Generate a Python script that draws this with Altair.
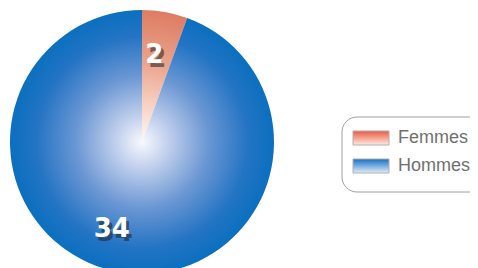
import altair as alt
import pandas as pd
import math

categories = ["Femmes", "Hommes"]
values = [2, 34]
order = [0, 1]

df = pd.DataFrame({"cat": categories, "value": values, "idx": order})

# centre of the pie, radius (chart coordinates)
CX, CY, R = 134, 134, 132
LABEL_DX = {"Femmes": -3, "Hommes": -15}

# Femmes slice bbox -> radial gradient centre in the pattern's unit square
total = sum(values)
ang = 2 * math.pi * values[0] / total
w = R * math.sin(ang)
side = max(w, R)
fx = (side / 2 - w / 2) / side

grad_f = {
    "gradient": "radial",
    "x1": fx, "y1": 1, "r1": 0,
    "x2": fx, "y2": 1, "r2": 1,
    "stops": [
        {"offset": 0, "color": "#fff8f4"},
        {"offset": 0.3, "color": "#f6d0c2"},
        {"offset": 0.6, "color": "#eba48e"},
        {"offset": 1, "color": "#de7c62"},
    ],
}
grad_h = {
    "gradient": "radial",
    "x1": 0.5, "y1": 0.5, "r1": 0,
    "x2": 0.5, "y2": 0.5, "r2": 0.5,
    "stops": [
        {"offset": 0, "color": "#f8f9fe"},
        {"offset": 0.17, "color": "#c9d5ef"},
        {"offset": 0.5, "color": "#6b97d3"},
        {"offset": 0.8, "color": "#2474c4"},
        {"offset": 1, "color": "#0b6fbf"},
    ],
}
leg_f = {
    "gradient": "linear", "x1": 0, "y1": 0, "x2": 0, "y2": 1,
    "stops": [{"offset": 0, "color": "#ee5a42"}, {"offset": 1, "color": "#fdeae2"}],
}
leg_h = {
    "gradient": "linear", "x1": 0, "y1": 0, "x2": 0, "y2": 1,
    "stops": [{"offset": 0, "color": "#1470c6"}, {"offset": 1, "color": "#e4ecf8"}],
}

base = alt.Chart(df)
theta = alt.Theta("value:Q", stack=True)
ordr = alt.Order("idx:Q")

pie = base.mark_arc(radius=R, strokeWidth=0).encode(
    theta=theta,
    order=ordr,
    x=alt.value(CX),
    y=alt.value(CY),
    fill=alt.condition(alt.datum.cat == "Femmes", alt.value(grad_f), alt.value(grad_h)),
)

label_layers = []
for cat in categories:
    dx = LABEL_DX[cat]
    sh = base.mark_text(
        radius=88, font="DejaVu Sans", fontWeight="bold", fontSize=26,
        color="#222222", opacity=0.55, dx=dx + 3, dy=4,
    ).encode(theta=theta, order=ordr, x=alt.value(CX), y=alt.value(CY), text="value:Q",
             opacity=alt.condition(alt.datum.cat == cat, alt.value(0.55), alt.value(0)))
    lb = base.mark_text(
        radius=88, font="DejaVu Sans", fontWeight="bold", fontSize=26, color="white", dx=dx,
    ).encode(theta=theta, order=ordr, x=alt.value(CX), y=alt.value(CY), text="value:Q",
             opacity=alt.condition(alt.datum.cat == cat, alt.value(1), alt.value(0)))
    label_layers += [sh, lb]

ly = alt.Y(
    "cat:N",
    scale=alt.Scale(type="point", domain=categories, range=[130, 158], padding=0),
    axis=None,
)

box = alt.Chart(pd.DataFrame({"a": [0]})).mark_rect(
    cornerRadius=15, fill=None, stroke="#a0a0a0", strokeWidth=1
).encode(x=alt.value(334), x2=alt.value(520), y=alt.value(109), y2=alt.value(184))

sym = base.mark_point(
    shape="M-1,-0.389H1V0.389H-1Z", size=1296, filled=True,
    stroke="#b0b0b0", strokeWidth=1, opacity=1,
).encode(
    x=alt.value(363),
    y=ly,
    fill=alt.condition(alt.datum.cat == "Femmes", alt.value(leg_f), alt.value(leg_h)),
)

txt = base.mark_text(
    align="left", baseline="middle", font="Liberation Sans", fontSize=18, color="#707070",
).encode(x=alt.value(390), y=ly, text="cat:N")

chart = (
    alt.layer(pie, *label_layers, box, sym, txt)
    .properties(
        width=462, height=260, autosize=alt.AutoSizeParams(type="none"),
        padding=0, background="white",
    )
    .configure_view(stroke=None, strokeWidth=0)
)

chart.save("out.html", embed_options={"renderer": "svg", "actions": False})
